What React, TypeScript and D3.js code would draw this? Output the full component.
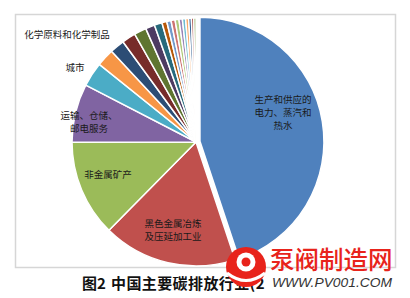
import React from "react";
import * as d3 from "d3";

// ---- data ----
const categories = [
  "生产和供应的电力、蒸汽和热水",
  "黑色金属冶炼及压延加工业",
  "非金属矿产",
  "运输、仓储、邮电服务",
  "城市",
  "化学原料和化学制品",
  "石油加工、炼焦及核燃料加工业",
  "有色金属冶炼及压延加工业",
  "煤炭开采和洗选业",
  "农林牧渔业",
  "造纸及纸制品业",
  "纺织业",
  "石油和天然气开采业",
  "食品制造业",
  "批发零售及餐饮业",
  "建筑业",
  "通用设备制造业",
  "交通运输设备制造业",
  "金属制品业",
  "医药制造业",
  "其他",
];
const shares = [
  44.9, 17.5, 12.6, 7.6, 3.2, 2.3, 1.9, 1.8, 1.6, 1.2, 1.0, 0.64, 0.56, 0.53,
  0.5, 0.44, 0.42, 0.39, 0.36, 0.31, 0.28,
];
const shownLabels = [
  ["生产和供应的", "电力、蒸汽和", "热水"],
  ["黑色金属冶炼", "及压延加工业"],
  ["非金属矿产"],
  ["运输、仓储、", "邮电服务"],
  ["城市"],
  ["化学原料和化学制品"],
];
const titleLead = "图2";
const titleMain = "中国主要碳排放行业(2";

// ---- style / layout ----
const W = 410;
const H = 298;
const CX = 196;
const CY = 142;
const R = 124;
const EXPLODE = 4;
const palette = [
  "#4F81BD", "#C0504D", "#9BBB59", "#8064A2", "#4BACC6", "#F79646",
  "#2C4D75", "#772C2A", "#5F7530", "#4D3B62", "#276A7C", "#B65708",
  "#729ACA", "#CD7371", "#AFC97A", "#9983B5", "#6FBDD1", "#F9AB6B",
  "#3A6797", "#9B3D3A", "#7E9C45",
];
// label centers relative to pie centre (dx, dy), chosen from the picture
const labelOffsets: [number, number][] = [
  [87, -29],
  [-23, 88],
  [-88, 33],
  [-107, -20],
  [-121, -74],
  [-129, -107],
];
const CJK = "'Noto Sans CJK SC', 'Noto Sans', sans-serif";

export default function App() {
  const data = categories.map((c, i) => ({ name: c, value: shares[i] }));
  const pie = d3
    .pie<{ name: string; value: number }>()
    .sort(null)
    .value((d) => d.value)
    .startAngle(0)
    .endAngle(2 * Math.PI);
  const arcs = pie(data);
  const arc = d3
    .arc<d3.PieArcDatum<{ name: string; value: number }>>()
    .innerRadius(0)
    .outerRadius(R);

  return (
    <svg
      width={W}
      height={H}
      style={{ position: "absolute", left: 0, top: 0, background: "#fff" }}
    >
      <rect x={0} y={0} width={W} height={H} fill="#fff" />
      <rect
        x={15.5}
        y={14.5}
        width={380}
        height={253}
        fill="none"
        stroke="#d6d6d6"
        strokeWidth={1.5}
      />
      <g transform={`translate(${CX},${CY})`}>
        {arcs.map((a, i) => {
          const mid = (a.startAngle + a.endAngle) / 2;
          const off = i === 0 ? EXPLODE : 0;
          const tx = Math.sin(mid) * off;
          const ty = -Math.cos(mid) * off;
          return (
            <path
              key={i}
              d={arc(a) || ""}
              transform={`translate(${tx},${ty})`}
              fill={palette[i % palette.length]}
              stroke="#fff"
              strokeWidth={1.5}
              strokeLinejoin="round"
            />
          );
        })}
        {shownLabels.map((lines, i) => {
          const [dx, dy] = labelOffsets[i];
          const lh = 13;
          const y0 = dy - ((lines.length - 1) * lh) / 2;
          return (
            <g key={i}>
              {lines.map((l, j) => (
                <text
                  key={j}
                  x={dx}
                  y={y0 + j * lh}
                  dy="0.35em"
                  textAnchor="middle"
                  fontFamily={CJK}
                  fontSize={9.5}
                  fill="#1a1a1a"
                >
                  {l}
                </text>
              ))}
            </g>
          );
        })}
      </g>
      <text
        x={82}
        y={289}
        fontFamily={CJK}
        fontWeight={700}
        fontSize={15}
        fill="#111"
      >
        {titleLead}
      </text>
      <text
        x={111}
        y={289}
        fontFamily={CJK}
        fontWeight={700}
        fontSize={15}
        letterSpacing={0.4}
        fill="#111"
      >
        {titleMain}
      </text>
      {/* watermark */}
      <g>
        <circle cx={246} cy={267} r={20} fill="#e8231b" />
        <circle cx={246} cy={262} r={9.5} fill="#fff" />
        <circle cx={246} cy={262} r={4.5} fill="#e8231b" />
        <path
          d="M227,273 Q246,288 265,273"
          fill="none"
          stroke="#fff"
          strokeWidth={3}
        />
      </g>
      <text
        x={270}
        y={269}
        fontFamily={CJK}
        fontWeight={500}
        fontSize={24.5}
        fill="#e8231b"
      >
        泵阀制造网
      </text>
      <text
        x={272}
        y={287}
        fontFamily="'Liberation Sans', Arial, sans-serif"
        fontStyle="italic"
        fontSize={13.5}
        fill="#333"
        textLength={120}
        lengthAdjust="spacingAndGlyphs"
      >
        WWW.PV001.COM
      </text>
    </svg>
  );
}
